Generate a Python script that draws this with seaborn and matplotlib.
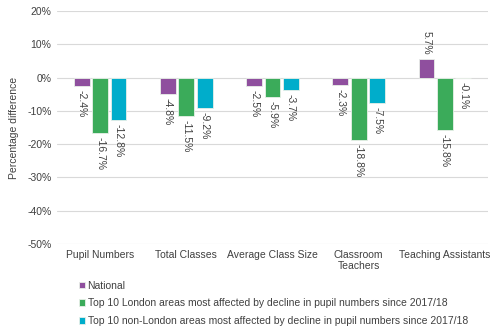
import matplotlib
matplotlib.use("Agg")
import matplotlib.pyplot as plt
import seaborn as sns
import pandas as pd
from matplotlib.ticker import FuncFormatter

categories = ["Pupil Numbers", "Total Classes", "Average Class Size",
              "Classroom\nTeachers", "Teaching Assistants"]
series_names = ["National",
                "Top 10 London areas most affected by decline in pupil numbers since 2017/18",
                "Top 10 non-London areas most affected by decline in pupil numbers since 2017/18"]
national = [-2.4, -4.8, -2.5, -2.3, 5.7]
london = [-16.7, -11.5, -5.9, -18.8, -15.8]
non_london = [-12.8, -9.2, -3.7, -7.5, -0.1]
colors = ["#8F4F9E", "#3BAB5A", "#00ADCB"]
yticks = [20, 10, 0, -10, -20, -30, -40, -50]

rows = []
for name, vals in zip(series_names, [national, london, non_london]):
    for c, v in zip(categories, vals):
        rows.append({"category": c, "series": name, "value": v})
df = pd.DataFrame(rows)

sns.set_theme(style="white")
plt.rcParams["font.family"] = ["Liberation Sans", "DejaVu Sans"]

fig = plt.figure(figsize=(5, 3.33), dpi=100)
ax = fig.add_axes([0.114, 0.267, 0.862, 0.70])

sns.barplot(data=df, x="category", y="value", hue="series", order=categories,
            hue_order=series_names, palette=colors, width=0.64, gap=0.15,
            edgecolor="#e8f0e8", linewidth=0.6, ax=ax, saturation=1, errorbar=None)

ax.set_ylim(-50, 20)
ax.set_yticks(yticks)
ax.yaxis.set_major_formatter(FuncFormatter(lambda v, p: f"{int(v)}%"))
ax.grid(axis="y", color="#d9d9d9", linewidth=0.8)
ax.set_axisbelow(True)
for s in ax.spines.values():
    s.set_visible(False)
ax.tick_params(axis="both", length=0, labelsize=7.5, colors="#404040", pad=4)
ax.set_xlabel("")
ax.set_ylabel("Percentage difference", fontsize=7.5, color="#404040", labelpad=6)

for cont in ax.containers:
    for bar in cont:
        h = bar.get_height()
        x = bar.get_x() + bar.get_width() / 2
        if h >= 0:
            ax.annotate(f"{h:.1f}%", (x, h), xytext=(0, 3), textcoords="offset points",
                        rotation=270, ha="center", va="bottom", fontsize=7.5, color="#404040")
        else:
            ax.annotate(f"{h:.1f}%", (x, h), xytext=(0, -3), textcoords="offset points",
                        rotation=270, ha="center", va="top", fontsize=7.5, color="#404040")

handles, labels = ax.get_legend_handles_labels()
ax.get_legend().remove()
fig.legend(handles, labels, loc="upper left", bbox_to_anchor=(0.15, 0.17),
           frameon=False, fontsize=7.5, handlelength=0.6, handleheight=0.6,
           handletextpad=0.2, labelspacing=0.75, borderaxespad=0, labelcolor="#404040")

fig.savefig("out.png", dpi=100, facecolor="white")
